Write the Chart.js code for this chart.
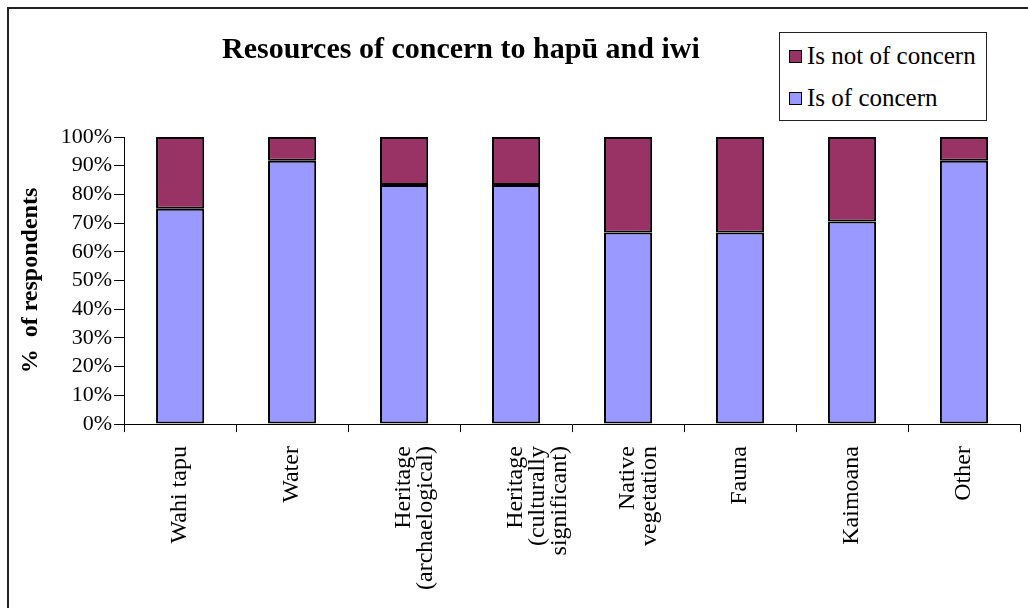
<!DOCTYPE html>
<html>
<head>
<meta charset="utf-8">
<script src="https://cdn.jsdelivr.net/npm/chart.js@4/dist/chart.umd.min.js"></script>
<style>
  html, body { margin: 0; padding: 0; background: #fff; overflow: hidden; }
  #wrap { position: relative; width: 1028px; height: 608px; }
  #frame { position: absolute; left: 7px; top: 7px; width: 1040px; height: 640px; border: 2px solid #222; }
  #title { position: absolute; left: 222px; top: 31px; line-height: 36px; white-space: nowrap;
    font: bold 30px "Liberation Serif", serif; color: #000; }
  #legend { position: absolute; left: 779px; top: 32px; width: 206px; height: 87px; border: 1px solid #222;
    font: 25px "Liberation Serif", serif; color: #000; background: #fff; white-space: nowrap; }
  #legend .row { position: absolute; left: 9px; display: flex; align-items: center; }
  #legend .sw { width: 11px; height: 11px; border: 1.5px solid #000; margin-right: 5px; }
  canvas { position: absolute; left: 0; top: 0; }
</style>
</head>
<body>
<div id="wrap">
  <div id="frame"></div>
  <canvas id="chart" width="1028" height="608"></canvas>
  <div id="title">Resources of concern to hapū and iwi</div>
  <div id="legend">
    <div class="row" style="top:9px"><span class="sw" style="background:#993366"></span>Is not of concern</div>
    <div class="row" style="top:51px"><span class="sw" style="background:#9999FF"></span>Is of concern</div>
  </div>
</div>
<script>
const categories = [
  'Wahi tapu',
  'Water',
  ['Heritage', '(archaelogical)'],
  ['Heritage', '(culturally', 'significant)'],
  ['Native', 'vegetation'],
  'Fauna',
  'Kaimoana',
  'Other'
]
const ofConcern = [75, 91.7, 83.3, 83.3, 66.7, 66.7, 70.6, 91.7]
const notOfConcern = [25, 8.3, 16.7, 16.7, 33.3, 33.3, 29.4, 8.3]
const yTicks = [0, 10, 20, 30, 40, 50, 60, 70, 80, 90, 100]

const serif = 'Liberation Serif, serif'

new Chart(document.getElementById('chart'), {
  type: 'bar',
  data: {
    labels: categories,
    datasets: [
      { label: 'Is of concern', data: ofConcern, backgroundColor: '#9999FF', borderColor: '#000', borderWidth: 2, borderSkipped: false },
      { label: 'Is not of concern', data: notOfConcern, backgroundColor: '#993366', borderColor: '#000', borderWidth: 2, borderSkipped: false }
    ]
  },
  options: {
    responsive: false,
    animation: false,
    devicePixelRatio: 1,
    categoryPercentage: 1,
    barPercentage: 0.43,
    layout: { padding: { top: 137, left: 16, right: 8, bottom: 4 } },
    scales: {
      x: {
        stacked: true,
        offset: true,
        border: { color: '#000', width: 1 },
        grid: { offset: true, drawOnChartArea: false, color: '#000', tickLength: 8 },
        ticks: { font: { family: serif, size: 24, lineHeight: 0.9 }, color: '#000', minRotation: 90, maxRotation: 90, autoSkip: false, padding: 14 }
      },
      y: {
        stacked: true,
        min: 0,
        max: 100,
        afterBuildTicks: axis => { axis.ticks = yTicks.map(v => ({ value: v })) },
        border: { color: '#000', width: 1 },
        grid: { drawOnChartArea: false, color: '#000', tickLength: 10 },
        ticks: { font: { family: serif, size: 22 }, color: '#000', padding: 2, autoSkip: false, callback: v => v + '%' },
        title: { display: true, text: '%  of respondents', font: { family: serif, size: 24, weight: 'bold' }, color: '#000', padding: { top: 0, bottom: 14 } }
      }
    },
    plugins: {
      legend: { display: false },
      title: { display: false },
      tooltip: { enabled: false }
    }
  }
})
</script>
</body>
</html>
